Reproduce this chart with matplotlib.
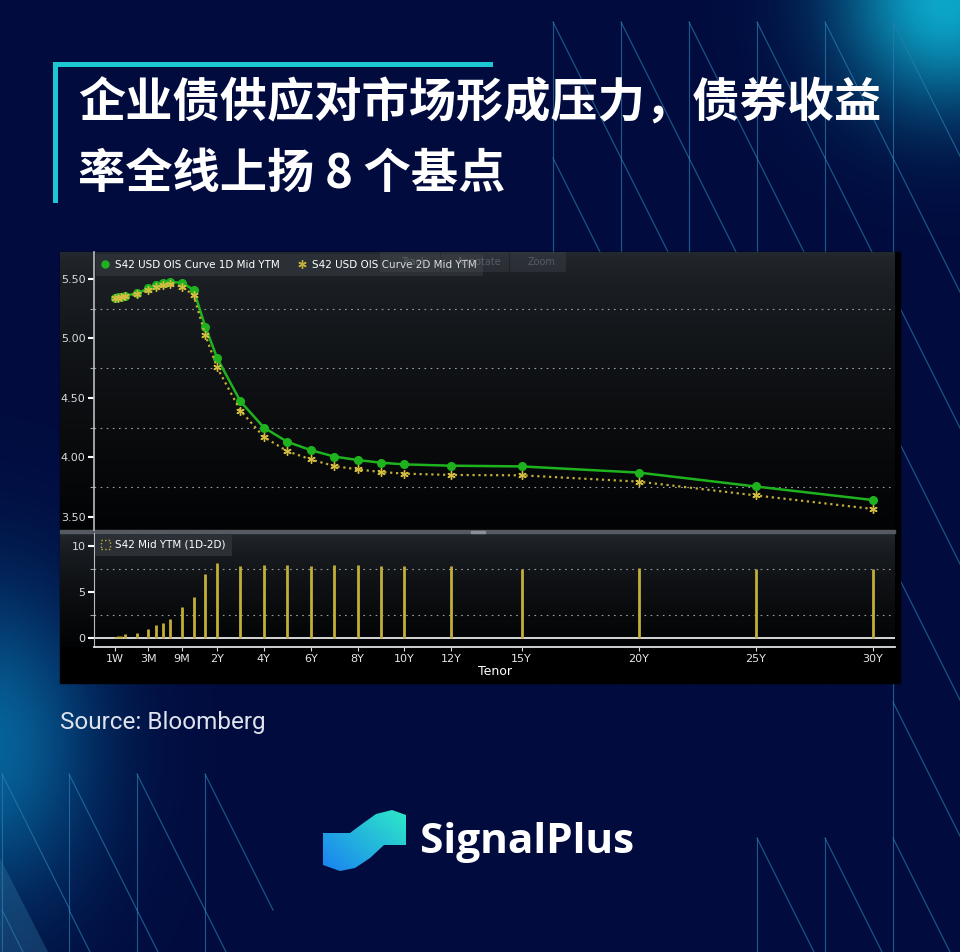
import numpy as np
import matplotlib
matplotlib.use('Agg')
import matplotlib.pyplot as plt
from matplotlib.lines import Line2D
from matplotlib.patches import Patch, Polygon, Rectangle

# ---- data ----
tenor_years = [7/365, 14/365, 21/365, 1/12, 2/12, 3/12, 4/12, 5/12, 6/12, 9/12, 1, 1.5,
               2, 3, 4, 5, 6, 7, 8, 9, 10, 12, 15, 20, 25, 30]
ytm_1d = [5.338, 5.345, 5.352, 5.360, 5.378, 5.420, 5.449, 5.466, 5.474, 5.469, 5.409, 5.100,
          4.838, 4.470, 4.250, 4.130, 4.060, 4.006, 3.977, 3.954, 3.940, 3.929, 3.923, 3.871, 3.754, 3.640]
ytm_2d = [5.337, 5.343, 5.350, 5.356, 5.373, 5.410, 5.436, 5.450, 5.454, 5.436, 5.364, 5.030,
          4.757, 4.392, 4.171, 4.051, 3.982, 3.926, 3.898, 3.876, 3.862, 3.851, 3.848, 3.795, 3.679, 3.565]
chg_bp = [0.05, 0.15, 0.15, 0.36, 0.47, 0.95, 1.35, 1.64, 2.04, 3.31, 4.47, 6.95,
          8.10, 7.85, 7.90, 7.90, 7.80, 7.95, 7.90, 7.80, 7.80, 7.80, 7.45, 7.55, 7.50, 7.45]
tick_years = [7/365, 0.25, 0.75, 2, 4, 6, 8, 10, 12, 15, 20, 25, 30]
tick_labels = ['1W', '3M', '9M', '2Y', '4Y', '6Y', '8Y', '10Y', '12Y', '15Y', '20Y', '25Y', '30Y']

title1 = '企业债供应对市场形成压力，债券收益'
title2 = '率全线上扬 8 个基点'
label_1d = 'S42 USD OIS Curve 1D Mid YTM'
label_2d = 'S42 USD OIS Curve 2D Mid YTM'
label_chg = 'S42 Mid YTM (1D-2D)'

# bloomberg tenor axis: stretched short end, linear in years from 1Y on
knot_years = [0, 7/365, 1/12, 2/12, 3/12, 6/12, 1, 40]
knot_pos = [-3.25, -2.35, -1.93, -1.43, -0.93, 0, 1, 40]

def fwd(x):
    return np.interp(x, knot_years, knot_pos)

def inv(u):
    return np.interp(u, knot_pos, knot_years)

W, H = 960, 952
CJK = ['Noto Sans CJK SC', 'DejaVu Sans']
green = '#1fb21f'
olive = '#c2ae38'

fig = plt.figure(figsize=(W / 100, H / 100), dpi=100)

# ---- background ----
bg = fig.add_axes([0, 0, 1, 1])
yy, xx = np.mgrid[0:H, 0:W]
img = np.ones((H, W, 3)) * np.array([1, 11, 62]) / 255
glows = [((945, 0, 75, 75), 0.9, (0.05, 0.72, 0.85)),
         ((-10, 745, 75, 110), 0.75, (0.03, 0.50, 0.72))]
for (cx, cy, sx, sy), amp, col in glows:
    a = amp * np.exp(-((xx - cx) ** 2 / (2 * sx ** 2) + (yy - cy) ** 2 / (2 * sy ** 2)))
    img = img * (1 - a[..., None]) + np.array(col) * a[..., None]
bg.imshow(img, extent=(0, W, H, 0), aspect='auto', zorder=0)
bg.add_patch(Polygon([(0, 858), (48, 952), (0, 952)], closed=True, color='#2a6f9a', alpha=0.4, lw=0))


def saw(xs, y0, y1, phase, dx=68, dy=136):
    for x in xs:
        bg.plot([x, x], [y0, y1], color='#2a7db0', lw=0.8, alpha=0.7, zorder=1)
        k = int(np.floor((y0 - phase) / dy)) - 1
        while phase + k * dy < y1:
            s = phase + k * dy
            ya, yb = max(s, y0), min(s + dy, y1)
            if yb > ya:
                bg.plot([x + (ya - s) / 2, x + (yb - s) / 2], [ya, yb],
                        color='#2a7db0', lw=0.8, alpha=0.7, zorder=1)
            k += 1


saw([553, 621, 689, 757, 825], 22, 683, 22)
saw([893], 22, 952, 22)
saw([757, 825], 838, 952, 22)
saw([2, 69, 137, 205], 774, 952, 774)

# chart panel (bloomberg dark window)
bg.add_patch(Rectangle((60, 252), 840, 431, color='black', zorder=2))
grad = (np.linspace(0, 1, 200) ** 0.6)[:, None, None]
top_c, bot_c = np.array([36, 41, 47]) / 255, np.array([2, 3, 4]) / 255
pane = np.repeat(top_c * (1 - grad) + bot_c * grad, 2, axis=1)
bg.imshow(pane, extent=(60, 895, 530, 252), aspect='auto', zorder=3)
bg.imshow(pane, extent=(60, 895, 647, 533), aspect='auto', zorder=3)
bg.add_patch(Rectangle((60, 530), 835, 3, color='#555a61', zorder=4))
bg.add_patch(Rectangle((471, 531), 14, 2, color='#8a9098', zorder=5))
bg.set_xlim(0, W)
bg.set_ylim(H, 0)
bg.axis('off')

# ---- upper chart: yield curves ----
ax1 = fig.add_axes([94 / W, (H - 530) / H, 801 / W, 278 / H])
ax1.set_facecolor('none')
ax1.set_xscale('function', functions=(fwd, inv))
ax1.plot(tenor_years, ytm_1d, color=green, lw=1.8, marker='o', ms=5.5, zorder=3)
ax1.plot(tenor_years, ytm_2d, color=olive, lw=1.6, ls=':', marker=(6, 2, 0), ms=6,
         mec='#d2bd40', mew=1.0, zorder=4)
ax1.set_xlim(0, 30.94)
ax1.set_ylim(3.388, 5.727)
ax1.set_yticks([3.5, 4.0, 4.5, 5.0, 5.5])
ax1.set_yticklabels(['%.2f' % v for v in [3.5, 4.0, 4.5, 5.0, 5.5]])
ax1.set_yticks([3.75, 4.25, 4.75, 5.25], minor=True)
ax1.grid(which='minor', axis='y', color='#9aa0a8', ls=(0, (1.5, 4)), lw=0.8)
ax1.tick_params(axis='x', which='both', bottom=False, labelbottom=False)
ax1.tick_params(axis='y', which='major', colors='white', labelcolor='#d8dce0', labelsize=8,
                length=4, width=1.5, pad=2)
ax1.tick_params(axis='y', which='minor', colors='#9aa0a8', length=3, width=0.8)
for s in ['top', 'right', 'bottom']:
    ax1.spines[s].set_visible(False)
ax1.spines['left'].set_color('#b8bcc2')
ax1.spines['left'].set_linewidth(1.2)

h1 = [Line2D([], [], ls='none', marker='o', color=green, ms=5),
      Line2D([], [], ls='none', marker=(6, 2, 0), color=olive, ms=6, mew=1.0)]
leg = ax1.legend(h1, [label_1d, label_2d], loc='upper left', bbox_to_anchor=(0.0, 1.0), ncol=2,
                 frameon=True, fancybox=False, facecolor='#2b3036', edgecolor='none', framealpha=1,
                 fontsize=7.5, labelcolor='white', handlelength=0.7, handletextpad=0.6,
                 columnspacing=1.8, borderpad=0.6, borderaxespad=0.15)

# ---- lower chart: 1D-2D change in bp ----
ax2 = fig.add_axes([94 / W, (H - 647) / H, 801 / W, 114 / H], sharex=ax1)
ax2.set_facecolor('none')
ax2.vlines(tenor_years, 0, chg_bp, color=olive, lw=2, zorder=3)
ax2.axhline(0, color='#e8e8e8', lw=1.3, zorder=2)
ax2.set_xlim(0, 30.94)
ax2.set_ylim(-1.01, 11.42)
ax2.set_yticks([0, 5, 10])
ax2.set_yticks([2.5, 7.5], minor=True)
ax2.grid(which='minor', axis='y', color='#9aa0a8', ls=(0, (1.5, 4)), lw=0.8)
ax2.set_xticks(tick_years)
ax2.set_xticklabels(tick_labels)
ax2.xaxis.set_minor_locator(plt.NullLocator())
ax2.tick_params(axis='x', colors='#d8dce0', labelcolor='#e6e6e6', labelsize=8, length=3, pad=2)
ax2.tick_params(axis='y', which='major', colors='white', labelcolor='#d8dce0', labelsize=8,
                length=4, width=1.5, pad=2)
ax2.tick_params(axis='y', which='minor', colors='#9aa0a8', length=3, width=0.8)
ax2.set_xlabel('Tenor', color='white', fontsize=9, labelpad=1)
for s in ['top', 'right']:
    ax2.spines[s].set_visible(False)
ax2.spines['left'].set_color('#b8bcc2')
ax2.spines['bottom'].set_color('#e0e0e0')
ax2.spines['bottom'].set_linewidth(1.3)
h2 = [Patch(facecolor='none', edgecolor=olive, linestyle=':', lw=1.0)]
ax2.legend(h2, [label_chg], loc='upper left', bbox_to_anchor=(0.0, 1.0), frameon=True,
           fancybox=False, facecolor='#2b3036', edgecolor='none', framealpha=1, fontsize=7.5,
           labelcolor='white', handlelength=0.9, handleheight=0.9, handletextpad=0.5,
           borderpad=0.55, borderaxespad=0.1)

# ---- overlay: title, toolbar ghosts, source, logo ----
ov = fig.add_axes([0, 0, 1, 1])
ov.set_facecolor('none')

ov.add_patch(Rectangle((53, 62), 440, 5, color='#1ec8d2', lw=0))
ov.add_patch(Rectangle((53, 62), 5, 141, color='#1ec8d2', lw=0))
ov.text(78, 104, title1, fontsize=34, fontweight='bold', color='white', va='center', ha='left', family=CJK)
ov.text(78, 174, title2, fontsize=34, fontweight='bold', color='white', va='center', ha='left', family=CJK)

# faint bloomberg toolbar buttons (mostly behind the legend)
for x0, w, txt in [(380, 60, 'Track'), (441, 68, 'Annotate'), (510, 56, 'Zoom')]:
    ov.add_patch(Rectangle((x0, 252), w, 20, facecolor='#5a6068', alpha=0.22, lw=0))
    ov.text(x0 + w / 2 + 4, 262, txt, fontsize=7, color='#8a9098', alpha=0.45, ha='center', va='center')

ov.text(60, 722, 'Source: Bloomberg', fontsize=17.5, color='#dfe3ee',
        va='center', ha='left', family='Roboto')

logo = Polygon([(323, 833), (350, 833), (362, 824), (376, 814), (392, 810), (406, 815), (406, 845),
                (384, 845), (370, 858), (355, 868), (340, 871), (323, 865)], closed=True,
               facecolor='none', edgecolor='none')
ov.add_patch(logo)
gy, gx = np.mgrid[0:1:60j, 0:1:90j]
t = np.clip(0.55 * gx + 0.45 * (1 - gy), 0, 1)[..., None]
lg = np.array([0.10, 0.50, 0.95]) * (1 - t) + np.array([0.18, 0.92, 0.78]) * t
im = ov.imshow(lg, extent=(322, 407, 872, 809), aspect='auto', zorder=2)
im.set_clip_path(logo)
ov.text(420, 853, 'SignalPlus', fontsize=30.5, fontweight='bold', color='white', va='baseline',
        ha='left', family='Open Sans')
ov.set_xlim(0, W)
ov.set_ylim(H, 0)
ov.axis('off')

fig.savefig('out.png', dpi=100, facecolor='#010b3e')
